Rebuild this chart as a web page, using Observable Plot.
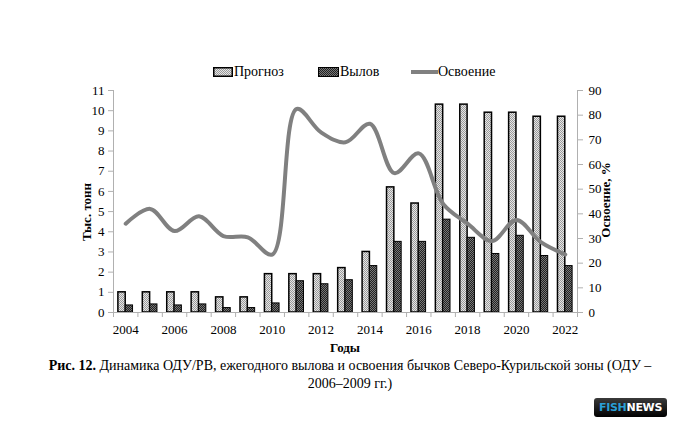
<!DOCTYPE html>
<html><head><meta charset="utf-8">
<script src="https://cdn.jsdelivr.net/npm/d3@7"></script>
<script src="https://cdn.jsdelivr.net/npm/@observablehq/plot@0.6"></script>
<style>
body{margin:0;background:#fff;font-family:"Liberation Serif","Times New Roman",serif;}
#wrap{position:relative;width:678px;height:427px;overflow:hidden;}
#chart{position:absolute;left:0;top:0;}
#legend{position:absolute;top:64px;left:0;width:678px;height:18px;font-size:14px;}
.li{position:absolute;top:0;display:flex;align-items:center;}
#caption{position:absolute;top:357px;left:30px;width:640px;text-align:center;font-size:14px;line-height:18px;color:#000;}
#logo{position:absolute;left:594px;top:398px;width:73px;height:19px;border-radius:3px;background:linear-gradient(#3a3a3a,#000);font-family:"DejaVu Sans",sans-serif;font-weight:bold;font-size:11px;line-height:19px;text-align:center;letter-spacing:-0.3px;}
</style></head>
<body><div id="wrap"><div id="chart"></div>
<div id="legend">
 <div class="li" style="left:213px"><svg width="20" height="10"><rect x="0.75" y="0.75" width="18.5" height="8.5" fill="url(#patLight)" stroke="#000" stroke-width="1.5"/></svg><span style="margin-left:1px">Прогноз</span></div>
 <div class="li" style="left:318px"><svg width="21" height="10"><rect x="0.5" y="0.5" width="20" height="9" fill="url(#patDark)" stroke="#000" stroke-width="1"/></svg><span style="margin-left:1px">Вылов</span></div>
 <div class="li" style="left:411px"><svg width="27" height="10"><line x1="0" y1="5" x2="27" y2="5" stroke="#808080" stroke-width="4"/></svg><span>Освоение</span></div>
</div>
<div id="caption"><b>Рис. 12.</b> Динамика ОДУ/РВ, ежегодного вылова и освоения бычков Северо-Курильской зоны (ОДУ –<br>2006–2009 гг.)</div>
<div id="logo"><span style="color:#2a9fd6">FISH</span><span style="color:#fff">NEWS</span></div>
</div>
<script>
const years = [2004,2005,2006,2007,2008,2009,2010,2011,2012,2013,2014,2015,2016,2017,2018,2019,2020,2021,2022];
const prognoz = [1,1,1,1,0.75,0.75,1.9,1.9,1.9,2.2,3.0,6.2,5.4,10.3,10.3,9.9,9.9,9.7,9.7];
const vylov = [0.35,0.4,0.35,0.4,0.22,0.22,0.45,1.55,1.4,1.6,2.3,3.5,3.5,4.6,3.7,2.9,3.8,2.8,2.3];
const osvoenie = [36,42,33,39,31,30.5,23.5,82.5,73,69,76.5,56.5,64.5,44,36,29,37.5,28.5,23.5];
const leftTicks = [0,1,2,3,4,5,6,7,8,9,10,11];
const rightTicks = [0,10,20,30,40,50,60,70,80,90];
const xTickLabels = [2004,2006,2008,2010,2012,2014,2016,2018,2020,2022];

const K = 11/90; // percent -> left scale
const rows = years.map((y,i)=>({year:y, prognoz:prognoz[i], vylov:vylov[i], pct:osvoenie[i]}));
const boundaries = years.map(y=>y-0.5).concat([years[years.length-1]+0.5]);
const axisGray = "#b0b0b0";

const plot = Plot.plot({
  width: 678, height: 360,
  marginLeft: 113, marginRight: 101, marginTop: 90, marginBottom: 48,
  style: {fontFamily: '"Liberation Serif","Times New Roman",serif', fontSize: "13px", background: "transparent", color:"#000"},
  x: {type:"linear", domain:[years[0]-0.5, years[years.length-1]+0.5]},
  y: {domain:[0,11]},
  marks: [
    Plot.rectY(rows, {x1: d=>d.year-0.3, x2: d=>d.year, y: "prognoz", fill: "url(#patLight)", stroke: "#000", strokeWidth: 1.5}),
    Plot.rectY(rows, {x1: d=>d.year, x2: d=>d.year+0.3, y: "vylov", fill: "url(#patDark)", stroke: "#000", strokeWidth: 1}),
    Plot.line(rows, {x: "year", y: d=>d.pct*K, stroke: "#808080", strokeWidth: 4, curve: "catmull-rom"}),
    Plot.ruleY([0], {stroke: axisGray}),
    Plot.ruleX([years[0]-0.5], {stroke: axisGray}),
    Plot.ruleX([years[years.length-1]+0.5], {stroke: axisGray}),
    Plot.axisY({ticks: leftTicks, tickSize: 5, tickPadding: 4, stroke: axisGray, fill:"#000", label: null}),
    Plot.axisY({anchor:"right", ticks: rightTicks.map(v=>v*K), tickFormat: v=>String(Math.round(v/K)), tickSize: 5, tickPadding: 6, stroke: axisGray, fill:"#000", label: null}),
    Plot.axisX({ticks: boundaries, tickSize: 5, tickFormat: ()=>"", stroke: axisGray, label: null}),
    Plot.axisX({ticks: xTickLabels, tickSize: 0, tickPadding: 12, tickFormat: d=>String(d), fill:"#000", label: null})
  ]
});

const svg = d3.select(plot);
const defs = svg.insert("defs", ":first-child");
const pl = defs.append("pattern").attr("id","patLight").attr("patternUnits","userSpaceOnUse").attr("width",2).attr("height",2);
pl.append("rect").attr("width",2).attr("height",2).attr("fill","#e6e6e6");
pl.append("rect").attr("width",1).attr("height",1).attr("fill","#9a9a9a");
pl.append("rect").attr("x",1).attr("y",1).attr("width",1).attr("height",1).attr("fill","#9a9a9a");
const pd = defs.append("pattern").attr("id","patDark").attr("patternUnits","userSpaceOnUse").attr("width",2).attr("height",2);
pd.append("rect").attr("width",2).attr("height",2).attr("fill","#222");
pd.append("rect").attr("width",1).attr("height",1).attr("fill","#777");
pd.append("rect").attr("x",1).attr("y",1).attr("width",1).attr("height",1).attr("fill","#777");

// axis titles
svg.append("text").attr("transform","translate(88,212) rotate(-90)").attr("text-anchor","middle").attr("dominant-baseline","middle")
  .attr("font-weight","bold").attr("font-size","13px").attr("font-family",'"Liberation Serif",serif').text("Тыс. тонн");
svg.append("text").attr("transform","translate(607,200) rotate(-90)").attr("text-anchor","middle").attr("dominant-baseline","middle")
  .attr("font-weight","bold").attr("font-size","13px").attr("font-family",'"Liberation Serif",serif').text("Освоение, %");
svg.append("text").attr("x",345).attr("y",352).attr("text-anchor","middle")
  .attr("font-weight","bold").attr("font-size","13px").attr("font-family",'"Liberation Serif",serif').text("Годы");

document.getElementById("chart").appendChild(plot);
// share patterns with legend
const legendDefs = document.createElementNS("http://www.w3.org/2000/svg","svg");
</script>
</body></html>
